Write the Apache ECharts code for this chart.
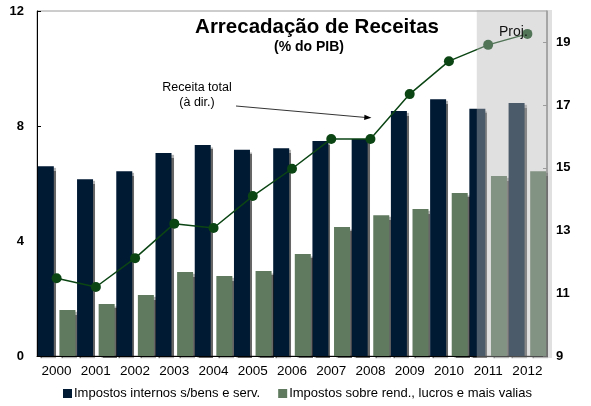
<!DOCTYPE html>
<html>
<head>
<meta charset="utf-8">
<script src="https://cdn.jsdelivr.net/npm/echarts@6/dist/echarts.min.js"></script>
<style>
  html, body { margin: 0; padding: 0; background: #fff; }
  #chart { width: 591px; height: 406px; }
</style>
</head>
<body>
<div id="chart"></div>
<script>
// Tax revenue, % of GDP
const years = ['2000','2001','2002','2003','2004','2005','2006','2007','2008','2009','2010','2011','2012'];
const internalTaxes = [6.6, 6.15, 6.43, 7.06, 7.34, 7.17, 7.23, 7.48, 7.55, 8.52, 8.93, 8.6, 8.8];
const incomeTaxes = [1.6, 1.81, 2.12, 2.92, 2.78, 2.96, 3.55, 4.49, 4.9, 5.11, 5.67, 6.26, 6.43];
const totalRevenue = [11.48, 11.2, 12.12, 13.22, 13.08, 14.1, 14.97, 15.92, 15.92, 17.35, 18.4, 18.92, 19.27];
const leftTicks = { min: 0, max: 12, interval: 4 };
const rightTicks = { min: 9, max: 20, interval: 2 };
const firstProjectionYear = '2011';

const FONT = '"Liberation Sans", Arial, sans-serif';
const chart = echarts.init(document.getElementById('chart'), null, { renderer: 'canvas' });

const barShadow = {
  shadowColor: 'rgba(0,0,0,0.6)',
  shadowBlur: 1,
  shadowOffsetX: 2,
  shadowOffsetY: 2
};

chart.setOption({
  animation: false,
  backgroundColor: '#fff',
  textStyle: { fontFamily: FONT },
  grid: {
    left: 37, right: 44, top: 11, bottom: 50,
    show: true, borderColor: '#9a9a9a', borderWidth: 1
  },
  legend: {
    data: ['Impostos internos s/bens e serv.', 'Impostos sobre rend., lucros e mais valias'],
    left: 58, top: 382,
    itemWidth: 9, itemHeight: 9, itemGap: 18,
    icon: 'rect',
    textStyle: { fontFamily: FONT, fontSize: 13, color: '#000', padding: [0, 0, 0, -3] }
  },
  xAxis: {
    type: 'category',
    data: years,
    axisLine: { lineStyle: { color: '#000', width: 1 } },
    axisTick: { show: false },
    axisLabel: { color: '#000', fontFamily: FONT, fontSize: 13.5, margin: 8 }
  },
  yAxis: [
    {
      type: 'value',
      min: leftTicks.min, max: leftTicks.max, interval: leftTicks.interval,
      axisLine: { show: true, lineStyle: { color: '#000', width: 1 } },
      axisTick: { show: true, inside: true, length: 4, lineStyle: { color: '#000' } },
      splitLine: { show: false },
      axisLabel: { color: '#000', fontFamily: FONT, fontSize: 13, fontWeight: 'bold', margin: 13 }
    },
    {
      type: 'value',
      position: 'right',
      min: rightTicks.min, max: rightTicks.max, interval: rightTicks.interval,
      axisLine: { show: true, lineStyle: { color: '#8a8a8a', width: 1.5 } },
      axisTick: { show: true, inside: true, length: 4, lineStyle: { color: '#8a8a8a' } },
      splitLine: { show: false },
      axisLabel: { color: '#000', fontFamily: FONT, fontSize: 13, fontWeight: 'bold', margin: 9, showMaxLabel: false }
    }
  ],
  series: [
    {
      name: 'Impostos internos s/bens e serv.',
      type: 'bar',
      data: internalTaxes,
      barWidth: 16,
      barGap: '35%',
      itemStyle: Object.assign({ color: '#001a33' }, barShadow),
      z: 2
    },
    {
      name: 'Impostos sobre rend., lucros e mais valias',
      type: 'bar',
      data: incomeTaxes,
      barWidth: 16,
      itemStyle: Object.assign({ color: '#5f7a5f' }, barShadow),
      z: 2
    },
    {
      name: 'Receita total',
      type: 'line',
      yAxisIndex: 1,
      data: totalRevenue,
      symbol: 'circle',
      symbolSize: 10,
      itemStyle: { color: '#0b4514' },
      lineStyle: { color: '#0b4514', width: 1.5 },
      z: 5
    }
  ]
});

// Projection band and annotations, placed from the axis scales
function drawOverlay() {
  const grid = chart.getModel().getComponent('grid').coordinateSystem.getRect();
  const xAxis = chart.getModel().getComponent('xAxis').axis;
  const band = xAxis.getBandWidth();
  const projX = chart.convertToPixel({ xAxisIndex: 0 }, firstProjectionYear) - band * 0.29;
  const projRight = grid.x + grid.width + 5;
  const tip = chart.convertToPixel({ xAxisIndex: 0, yAxisIndex: 1 }, ['2008', 16.6]);

  chart.setOption({
    graphic: [
      {
        type: 'rect', z: 100, silent: true,
        shape: { x: projX, y: grid.y - 1, width: projRight - projX, height: grid.height + 3 },
        style: { fill: 'rgba(180,180,180,0.42)' }
      },
      {
        type: 'text', z: 101, x: 499, y: 25,
        style: { text: 'Proj.', font: '14px ' + FONT, fill: '#111' }
      },
      {
        type: 'text', z: 101, x: 317, y: 17,
        style: { text: 'Arrecadação de Receitas', font: 'bold 20.5px ' + FONT, fill: '#000', align: 'center', verticalAlign: 'top' }
      },
      {
        type: 'text', z: 101, x: 309, y: 40,
        style: { text: '(% do PIB)', font: 'bold 14px ' + FONT, fill: '#000', align: 'center', verticalAlign: 'top' }
      },
      {
        type: 'text', z: 101, x: 197, y: 80,
        style: { text: 'Receita total\n(à dir.)', font: '12.5px ' + FONT, fill: '#000', align: 'center', verticalAlign: 'top', lineHeight: 15 }
      },
      {
        type: 'line', z: 101,
        shape: { x1: 236, y1: 106, x2: tip[0] - 3, y2: tip[1] },
        style: { stroke: '#000', lineWidth: 0.8 }
      },
      {
        type: 'polygon', z: 101,
        shape: { points: [[tip[0] + 1, tip[1] + 0.1], [tip[0] - 6, tip[1] - 2.8], [tip[0] - 6.3, tip[1] + 2.4]] },
        style: { fill: '#000' }
      }
    ]
  });
}
drawOverlay();
</script>
</body>
</html>
